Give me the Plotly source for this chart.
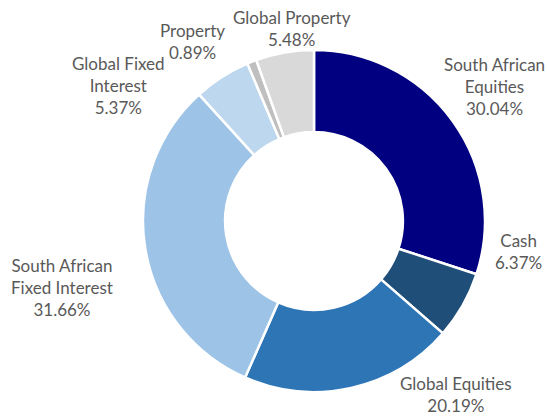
import plotly.graph_objects as go

labels = ["South African Equities", "Cash", "Global Equities", "South African Fixed Interest",
          "Global Fixed Interest", "Property", "Global Property"]
label_lines = ["South African<br>Equities", "Cash", "Global Equities", "South African<br>Fixed Interest",
               "Global Fixed<br>Interest", "Property", "Global Property"]
values = [30.04, 6.37, 20.19, 31.66, 5.37, 0.89, 5.48]
colors = ["#000080", "#1F4E79", "#2E75B6", "#9DC3E6", "#BDD7EE", "#BFBFBF", "#D9D9D9"]

# label centre positions in pixels (x, y from top)
label_pos = [(494, 86), (518, 251), (456, 394), (62, 287), (118, 85), (192, 41), (292, 28)]

W, H = 547, 417
cx, cy, r = 314, 221, 171

fig = go.Figure(go.Pie(
    labels=labels, values=values, sort=False, direction="clockwise", rotation=0,
    hole=0.52, marker=dict(colors=colors, line=dict(color="white", width=2.5)),
    textinfo="none", hoverinfo="label+percent", showlegend=False,
    domain=dict(x=[(cx - r) / W, (cx + r) / W], y=[(H - cy - r) / H, (H - cy + r) / H]),
))

for txt, v, (px, py) in zip(label_lines, values, label_pos):
    fig.add_annotation(x=px / W, y=1 - py / H, xref="paper", yref="paper",
                       text=f"{txt}<br>{v:.2f}%", showarrow=False, align="center",
                       xanchor="center", yanchor="middle",
                       font=dict(family="Lato, Carlito, Calibri, sans-serif", size=17, color="#595959"))

fig.update_layout(width=W, height=H, margin=dict(l=0, r=0, t=0, b=0),
                  paper_bgcolor="white", plot_bgcolor="white")
fig.write_html("out.html", config={"displayModeBar": False},
               post_script="document.body.style.margin='0';document.body.style.overflow='hidden';")
